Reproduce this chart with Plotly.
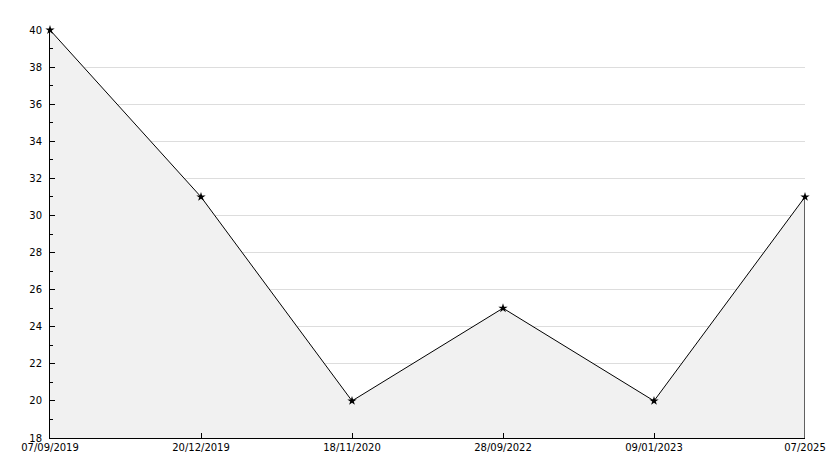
import plotly.graph_objects as go

dates = ["07/09/2019", "20/12/2019", "18/11/2020", "28/09/2022", "09/01/2023", "07/2025"]
values = [40, 31, 20, 25, 20, 31]
y_min, y_max = 18, 40

xs = list(range(len(dates)))

fig = go.Figure()
fig.add_trace(go.Scatter(
    x=xs, y=values, mode="lines+markers",
    fill="tozeroy", fillcolor="#f1f1f1",
    line=dict(color="black", width=1),
    marker=dict(symbol="star", size=7, color="black"),
    hoverinfo="skip", showlegend=False, cliponaxis=False,
))
# right edge of the filled area
fig.add_trace(go.Scatter(
    x=[xs[-1], xs[-1]], y=[y_min, values[-1]], mode="lines",
    line=dict(color="black", width=1.2), hoverinfo="skip", showlegend=False,
))

font = dict(family="DejaVu Sans", size=10, color="black")
fig.update_layout(
    width=834, height=468,
    margin=dict(l=42, r=37, t=22, b=38),
    paper_bgcolor="white", plot_bgcolor="white",
    font=font,
    xaxis=dict(
        range=[0, len(dates) - 1], tickvals=xs, ticktext=dates,
        showgrid=False, zeroline=False,
        showline=True, linecolor="black", linewidth=1,
        ticks="inside", ticklen=5, tickcolor="black",
        tickfont=font,
    ),
    yaxis=dict(
        range=[y_min, y_max], dtick=2, tick0=0,
        showgrid=True, gridcolor="#dddddd", gridwidth=1,
        zeroline=False,
        showline=True, linecolor="black", linewidth=1,
        ticks="inside", ticklen=5, tickcolor="black",
        ticklabelstandoff=5,
        minor=dict(ticks="inside", dtick=1, ticklen=3, tickcolor="black", showgrid=False),
        tickfont=font,
    ),
)
fig.write_html("out.html")
